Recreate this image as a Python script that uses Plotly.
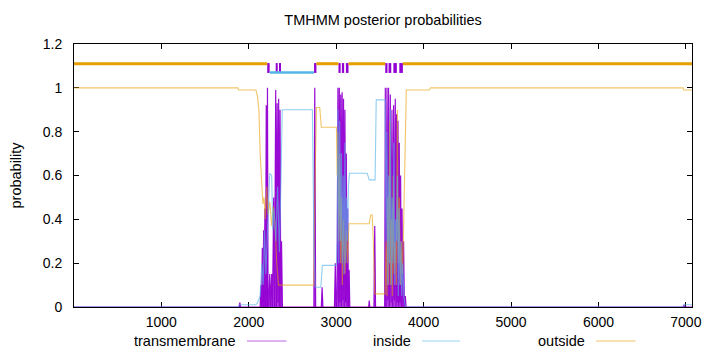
import plotly.graph_objects as go

# ---------------- data ----------------
chart_title = "TMHMM posterior probabilities"
y_title = "probability"
series_names = ["transmembrane", "inside", "outside"]
seq_len = 7070
x_ticks = [1000, 2000, 3000, 4000, 5000, 6000, 7000]
y_ticks = [0, 0.2, 0.4, 0.6, 0.8, 1.0, 1.2]
y_tick_labels = ["0", "0.2", "0.4", "0.6", "0.8", "1", "1.2"]

# outside posterior probability
out_pos = [1, 1875, 1885, 2082, 2100, 2116, 2130, 2150, 2162, 2175, 2190, 2205, 2220, 2240,
           2262, 2280, 2300, 2320, 2340, 2380, 2728, 2745, 2755, 2774, 2812, 2830, 3003,
           3011, 3020, 3030, 3040, 3050, 3060, 3070, 3085, 3100, 3115, 3130, 3145, 3152,
           3378, 3395, 3412, 3425, 3441, 3561, 3570, 3581, 3590, 3600, 3612, 3622, 3632,
           3642, 3652, 3662, 3675, 3688, 3700, 3710, 3722, 3735, 3748, 3760, 3775, 3785,
           3795, 3802, 4067, 4080, 6968, 6975, 7070]
out_prob = [1.0, 1.0, 0.99, 0.99, 0.96, 0.9, 0.7, 0.55, 0.47, 0.5, 0.4, 0.55, 0.42, 0.48,
            0.37, 0.46, 0.38, 0.2, 0.1, 0.1, 0.1, 0.1, 0.5, 0.91, 0.91, 0.82, 0.82,
            0.6, 0.8, 0.3, 0.7, 0.2, 0.5, 0.1, 0.4, 0.15, 0.35, 0.2, 0.38, 0.38,
            0.38, 0.42, 0.42, 0.3, 0.06, 0.06, 0.3, 0.05, 0.5, 0.1, 0.85, 0.1, 0.4,
            0.05, 0.6, 0.15, 0.3, 0.1, 0.9, 0.2, 0.5, 0.1, 0.3, 0.15, 0.5, 0.7,
            0.95, 0.99, 0.99, 1.0, 1.0, 0.99, 0.99]

# inside posterior probability
in_pos = [1, 1875, 1890, 2082, 2100, 2130, 2150, 2165, 2180, 2195, 2210, 2225, 2240, 2262,
          2275, 2290, 2310, 2330, 2350, 2370, 2383, 2728, 2745, 2760, 2824, 2842, 3003,
          3011, 3020, 3030, 3040, 3050, 3060, 3070, 3080, 3090, 3100, 3110, 3120, 3130,
          3140, 3152, 3355, 3378, 3445, 3458, 3561, 3570, 3580, 3590, 3600, 3610, 3620,
          3630, 3640, 3650, 3660, 3670, 3680, 3690, 3700, 3710, 3720, 3730, 3740, 3750,
          3760, 3775, 3790, 6968, 6980, 7070]
in_prob = [0.0, 0.0, 0.01, 0.01, 0.02, 0.05, 0.2, 0.1, 0.35, 0.15, 0.3, 0.45, 0.61, 0.6,
           0.35, 0.45, 0.3, 0.55, 0.25, 0.6, 0.9, 0.9, 0.3, 0.09, 0.09, 0.19, 0.19,
           0.3, 0.9, 0.2, 0.85, 0.3, 0.7, 0.2, 0.6, 0.15, 0.75, 0.2, 0.5, 0.3,
           0.55, 0.61, 0.61, 0.58, 0.58, 0.945, 0.945, 0.3, 0.8, 0.1, 0.6, 0.2, 0.9,
           0.1, 0.5, 0.2, 0.75, 0.1, 0.4, 0.3, 0.6, 0.05, 0.45, 0.1, 0.3, 0.05,
           0.2, 0.05, 0.0, 0.0, 0.01, 0.01]

# transmembrane posterior probability
tm_pos = [1, 1890, 1898, 1906, 2130, 2140, 2147, 2155, 2162, 2170, 2177, 2185, 2192, 2200,
          2207, 2214, 2221, 2228, 2240, 2250, 2262, 2272, 2285, 2295, 2308, 2316, 2325,
          2333, 2342, 2350, 2358, 2366, 2375, 2385, 2745, 2755, 2765, 2830, 2839, 2848,
          2980, 2990, 3000, 3010, 3020, 3028, 3036, 3044, 3052, 3060, 3068, 3076, 3084,
          3092, 3100, 3108, 3116, 3124, 3132, 3140, 3148, 3156, 3372, 3378, 3384, 3432,
          3441, 3450, 3555, 3562, 3570, 3581, 3590, 3599, 3608, 3619, 3628, 3638, 3647,
          3657, 3666, 3676, 3684, 3691, 3699, 3707, 3715, 3722, 3730, 3737, 3745, 3753,
          3762, 3771, 3780, 3791, 3800, 6968, 6975, 6985, 7070]
tm_prob = [0, 0, 0.02, 0, 0, 0.1, 0.0, 0.27, 0.0, 0.35, 0.0, 0.45, 0.0, 0.92,
           0.0, 1.0, 0.0, 0.0, 0.15, 0.0, 0.15, 0.0, 0.5, 0.0, 0.99, 0.0, 0.93,
           0.02, 0.95, 0.0, 0.9, 0.0, 0.3, 0, 0, 1.0, 0, 0, 0.09, 0,
           0, 0.2, 0, 0.05, 1.0, 0.0, 1.0, 0.02, 0.97, 0.0, 0.98, 0.03, 0.95,
           0.0, 0.9, 0.02, 0.7, 0.0, 0.45, 0.0, 0.17, 0, 0, 0.03, 0, 0,
           0.37, 0, 0, 1.0, 0.0, 1.0, 0.03, 1.0, 0.0, 0.97, 0.02, 0.9, 0.0,
           0.92, 0.03, 0.95, 0.0, 0.88, 0.02, 0.85, 0.0, 0.75, 0.02, 0.6, 0.0, 0.45,
           0.0, 0.3, 0.0, 0.05, 0, 0, 0.01, 0, 0]

# predicted topology (top bar)
tm_seg_start = [2211, 2308, 2346, 2747, 3026, 3065, 3111, 3561, 3599, 3654, 3722]
tm_seg_end = [2239, 2331, 2369, 2774, 3051, 3091, 3141, 3587, 3630, 3694, 3763]
outside_seg_start = [1, 2774, 3141, 3763]
outside_seg_end = [2211, 3026, 3561, 7070]
inside_seg_start = [2239]
inside_seg_end = [2747]

# ---------------- style ----------------
C_TM = "#9400D3"
C_IN = "#56B4E9"
C_OUT = "#E69F00"
FONT = "Liberation Sans"
W, H = 720, 352
ML, MR, MT, MB = 74, 28, 44, 45
PW, PH = W - ML - MR, H - MT - MB


def rgba(hexc, a):
    h = hexc.lstrip("#")
    return "rgba(%d,%d,%d,%.3f)" % (int(h[0:2], 16), int(h[2:4], 16), int(h[4:6], 16), a)


def segs(starts, ends):
    xs = []
    for s, e in zip(starts, ends):
        xs += [s, e, None]
    return xs


fig = go.Figure()

fig.add_trace(go.Scatter(x=tm_pos, y=tm_prob, mode="lines", fill="tozeroy",
                         fillcolor=rgba(C_TM, 0.75),
                         line=dict(color=rgba(C_TM, 0.95), width=1.2),
                         showlegend=False, hoverinfo="skip"))
fig.add_trace(go.Scatter(x=out_pos, y=out_prob, mode="lines",
                         line=dict(color=rgba(C_OUT, 0.6), width=1.1),
                         showlegend=False, hoverinfo="skip"))
fig.add_trace(go.Scatter(x=in_pos, y=in_prob, mode="lines",
                         line=dict(color=rgba(C_IN, 0.65), width=1.1),
                         showlegend=False, hoverinfo="skip"))

# top topology bar
ox = segs(outside_seg_start, outside_seg_end)
fig.add_trace(go.Scatter(x=ox, y=[1.11 if v is not None else None for v in ox], mode="lines",
                         line=dict(color=C_OUT, width=3), showlegend=False, hoverinfo="skip"))
ix = segs(inside_seg_start, inside_seg_end)
fig.add_trace(go.Scatter(x=ix, y=[1.07 if v is not None else None for v in ix], mode="lines",
                         line=dict(color=C_IN, width=2.5), showlegend=False, hoverinfo="skip"))
fig.add_trace(go.Bar(x=[(s + e) / 2 for s, e in zip(tm_seg_start, tm_seg_end)],
                     width=[e - s for s, e in zip(tm_seg_start, tm_seg_end)],
                     y=[0.045] * len(tm_seg_start), base=1.068,
                     marker=dict(color=C_TM, line=dict(width=0)),
                     showlegend=False, hoverinfo="skip"))

# legend (gnuplot style: text then line sample)
leg_text_right = [238.5, 412.5, 586.5]
leg_line = [(247, 286.5), (422, 460), (596, 635.5)]
leg_col = [rgba(C_TM, 0.6), rgba(C_IN, 0.6), rgba(C_OUT, 0.6)]
leg_y = (H - MB - 341) / PH
annotations = []
shapes = []
for name, tx, (l0, l1), c in zip(series_names, leg_text_right, leg_line, leg_col):
    annotations.append(dict(text=name, x=(tx - ML) / PW, y=leg_y, xref="paper", yref="paper",
                            xanchor="right", yanchor="middle", showarrow=False,
                            font=dict(family=FONT, size=14.5, color="#000")))
    shapes.append(dict(type="line", xref="paper", yref="paper",
                       x0=(l0 - ML) / PW, x1=(l1 - ML) / PW, y0=leg_y, y1=leg_y,
                       line=dict(color=c, width=1)))

annotations.append(dict(text=y_title, textangle=-90, x=(15 - ML) / PW, y=0.5,
                        xref="paper", yref="paper", xanchor="center", yanchor="middle",
                        showarrow=False, font=dict(family=FONT, size=14.5, color="#000")))

fig.update_layout(
    width=W, height=H,
    margin=dict(l=ML, r=MR, t=MT, b=MB, pad=0),
    paper_bgcolor="white", plot_bgcolor="white",
    title=dict(text=chart_title, x=(ML + PW / 2) / W, xanchor="center",
               y=1 - 20 / H, yanchor="middle", yref="container",
               font=dict(family=FONT, size=14.5, color="#000")),
    font=dict(family=FONT, size=14, color="#000"),
    showlegend=False,
    barmode="overlay",
    annotations=annotations,
    shapes=shapes,
    xaxis=dict(range=[1, seq_len], tickvals=x_ticks, ticks="inside", ticklen=5,
               tickcolor="#000", showline=True, linecolor="#000", linewidth=1,
               mirror="ticks", showgrid=False, zeroline=False, layer="below traces",
               tickfont=dict(family=FONT, size=14), ticklabelstandoff=2),
    yaxis=dict(range=[0, 1.2], tickvals=y_ticks, ticktext=y_tick_labels, ticks="inside",
               ticklen=5, tickcolor="#000", showline=True, linecolor="#000", linewidth=1,
               mirror="ticks", showgrid=False, zeroline=False, layer="below traces",
               tickfont=dict(family=FONT, size=14), ticklabelstandoff=8),
)

fig.write_html("out.html")
